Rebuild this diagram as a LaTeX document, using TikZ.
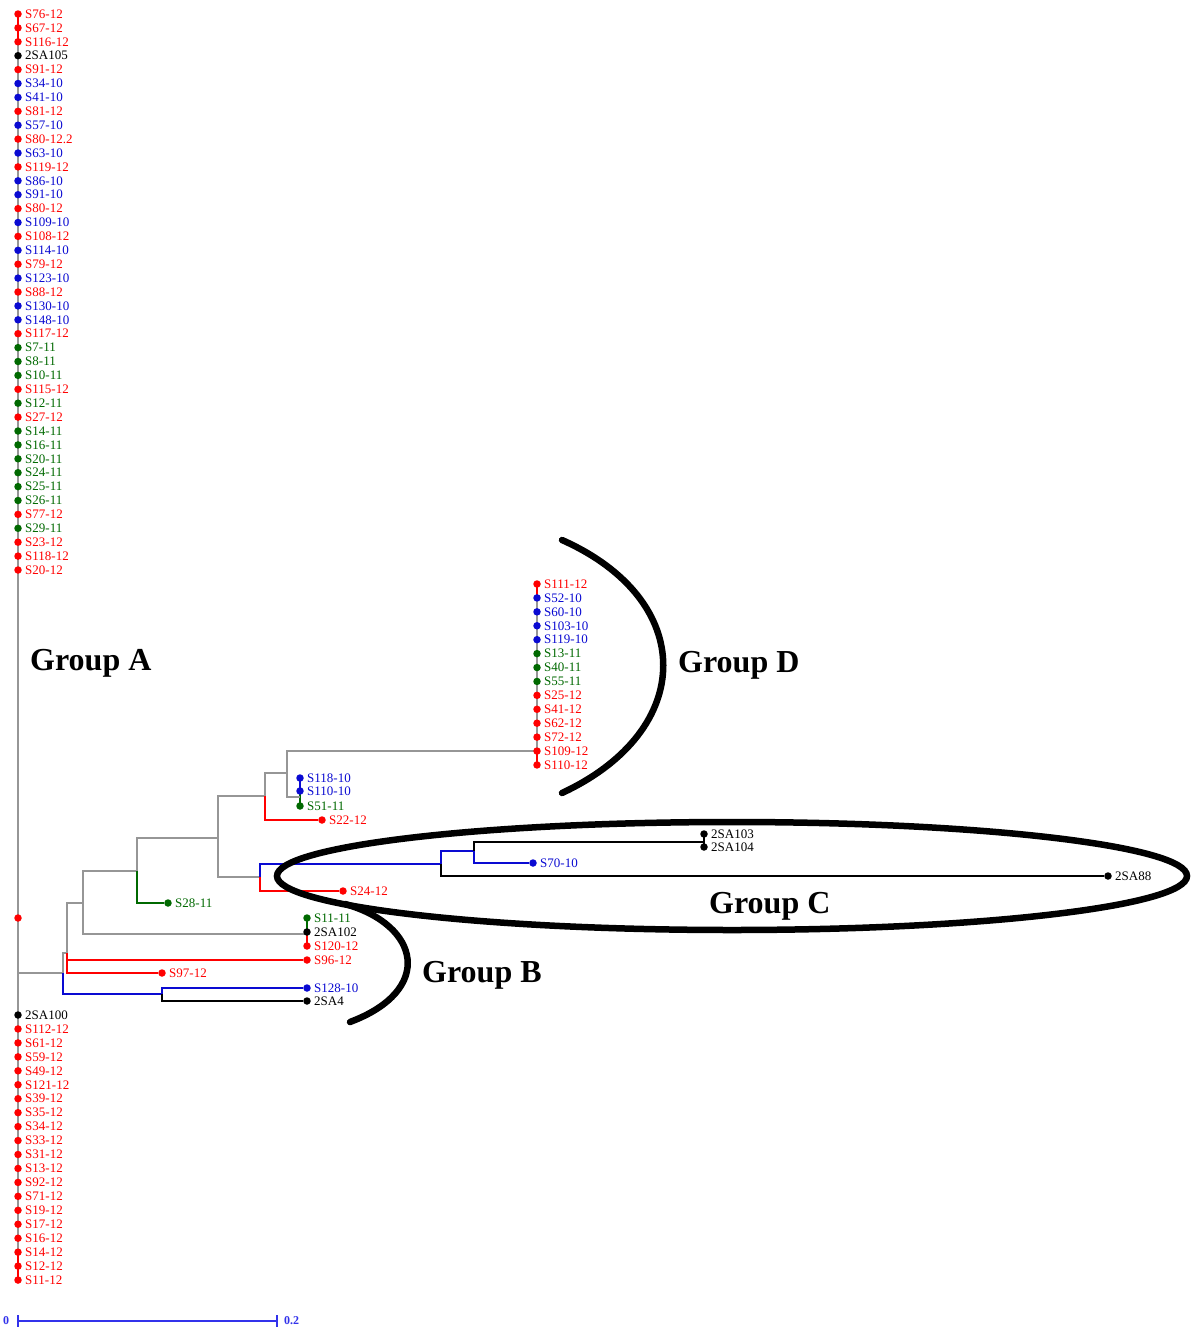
\documentclass[tikz,border=0pt]{standalone}
\usepackage{fontspec}
\setmainfont{Liberation Serif}

\pgfdeclarelayer{paper}
\pgfdeclarelayer{edges}
\pgfsetlayers{paper,edges,main}

\definecolor{tred}{RGB}{255,0,0}
\definecolor{tblue}{RGB}{10,10,210}
\definecolor{tgreen}{RGB}{0,105,0}
\definecolor{tblack}{RGB}{0,0,0}
\definecolor{tgray}{RGB}{150,150,150}
\definecolor{sbblue}{RGB}{50,50,235}

\tikzset{
  dot/.style={circle,inner sep=0pt,minimum size=7.5pt},
  lab/.style={anchor=west,inner sep=0pt,font=\fontsize{13}{13}\selectfont},
  edge/.style={line width=1.2pt},
  grp/.style={anchor=base west,inner sep=0pt,font=\fontsize{32}{32}\selectfont\bfseries},
  hoop/.style={line width=6.5pt,line cap=round,black},
  sbtext/.style={inner sep=0pt,text=sbblue,font=\fontsize{12}{12}\selectfont\bfseries},
}

% leaf: name, x, y, colour, label
\newcommand{\tleaf}[5]{%
  \node[dot,fill=#4] (#1) at (#2,{#3}) {};
  \node[lab,text=#4] (#1-t) at ([xshift=7pt]#1.center) {#5};}

\begin{document}
\begin{tikzpicture}[x=1pt,y=-1pt]
\begin{pgfonlayer}{paper}
  \fill[white] (0,0) rectangle (1192,1333);
\end{pgfonlayer}
\useasboundingbox (0,0) rectangle (1192,1333);

% ---- Group A: upper comb on the root spine
\foreach \c/\t [count=\i] in {
  tred/S76-12, tred/S67-12, tred/S116-12, tblack/2SA105, tred/S91-12,
  tblue/S34-10, tblue/S41-10, tred/S81-12, tblue/S57-10, tred/S80-12.2,
  tblue/S63-10, tred/S119-12, tblue/S86-10, tblue/S91-10, tred/S80-12,
  tblue/S109-10, tred/S108-12, tblue/S114-10, tred/S79-12, tblue/S123-10,
  tred/S88-12, tblue/S130-10, tblue/S148-10, tred/S117-12, tgreen/S7-11,
  tgreen/S8-11, tgreen/S10-11, tred/S115-12, tgreen/S12-11, tred/S27-12,
  tgreen/S14-11, tgreen/S16-11, tgreen/S20-11, tgreen/S24-11, tgreen/S25-11,
  tgreen/S26-11, tred/S77-12, tgreen/S29-11, tred/S23-12, tred/S118-12,
  tred/S20-12}
  {\tleaf{a\i}{18}{14+13.9*(\i-1)}{\c}{\t}}

% ---- Group A: lower comb on the root spine
\foreach \c/\t [count=\i] in {
  tblack/2SA100, tred/S112-12, tred/S61-12, tred/S59-12, tred/S49-12,
  tred/S121-12, tred/S39-12, tred/S35-12, tred/S34-12, tred/S33-12,
  tred/S31-12, tred/S13-12, tred/S92-12, tred/S71-12, tred/S19-12,
  tred/S17-12, tred/S16-12, tred/S14-12, tred/S12-12, tred/S11-12}
  {\tleaf{b\i}{18}{1015+13.95*(\i-1)}{\c}{\t}}

\node[dot,fill=tred] (mid) at (18,918) {};

% ---- Group D comb
\foreach \c/\t [count=\i] in {
  tred/S111-12, tblue/S52-10, tblue/S60-10, tblue/S103-10, tblue/S119-10,
  tgreen/S13-11, tgreen/S40-11, tgreen/S55-11, tred/S25-12, tred/S41-12,
  tred/S62-12, tred/S72-12, tred/S109-12, tred/S110-12}
  {\tleaf{d\i}{537}{584+13.92*(\i-1)}{\c}{\t}}

% ---- remaining leaves
\tleaf{s128}{307}{988}{tblue}{S128-10}
\tleaf{sa4}{307}{1001}{tblack}{2SA4}
\tleaf{s96}{307}{960}{tred}{S96-12}
\tleaf{s97}{162}{973}{tred}{S97-12}
\tleaf{s11}{307}{918}{tgreen}{S11-11}
\tleaf{sa102}{307}{932}{tblack}{2SA102}
\tleaf{s120}{307}{946}{tred}{S120-12}
\tleaf{s28}{168}{903}{tgreen}{S28-11}
\tleaf{s22}{322}{820}{tred}{S22-12}
\tleaf{s118}{300}{778}{tblue}{S118-10}
\tleaf{s110}{300}{791}{tblue}{S110-10}
\tleaf{s51}{300}{806}{tgreen}{S51-11}
\tleaf{s24}{343}{891}{tred}{S24-12}
\tleaf{sa88}{1108}{876}{tblack}{2SA88}
\tleaf{s70}{533}{863}{tblue}{S70-10}
\tleaf{sa103}{704}{834}{tblack}{2SA103}
\tleaf{sa104}{704}{847}{tblack}{2SA104}

% ---- inner nodes
\coordinate (R)   at (18,973);
\coordinate (N1)  at (63,973);
\coordinate (Nb)  at (162,994);
\coordinate (N2)  at (67,953);
\coordinate (N4)  at (83,903);
\coordinate (K1)  at (307,934);
\coordinate (N5)  at (137,871);
\coordinate (N6)  at (218,838);
\coordinate (N7)  at (265,796);
\coordinate (N8)  at (260,877);
\coordinate (N9)  at (287,773);
\coordinate (KD)  at (537,751);
\coordinate (K2)  at (300,797);
\coordinate (N10) at (441,864);
\coordinate (N11) at (474,851);
\coordinate (K3)  at (704,842);

\begin{pgfonlayer}{edges}
  % root spine
  \draw[edge,tgray] (a1.center) -- (b20.center);
  \draw[edge,tred] (a1.center) -- (a3.center);
  \draw[edge,tred] (b18.center) -- (b20.center);
  % Group D comb
  \draw[edge,tgray] (d2.center) -- (d13.center);
  \draw[edge,tred] (d1.center) -- (d2.center);
  \draw[edge,tred] (d13.center) -- (d14.center);
  % small clusters
  \draw[edge,tgreen] (s11.center) -- (sa102.center);
  \draw[edge,tred] (sa102.center) -- (s120.center);
  \draw[edge,tblue] (s118.center) -- (s110.center);
  \draw[edge,tgreen] (s110.center) -- (s51.center);
  \draw[edge,tblack] (sa103.center) -- (sa104.center);
  % branches
  \draw[edge,tgray] (R) -- (N1);
  \draw[edge,tgray] (N1) |- (N2);
  \draw[edge,tblue] (N1) |- (Nb);
  \draw[edge,tblue] (Nb) |- (s128);
  \draw[edge,tblack] (Nb) |- (sa4);
  \draw[edge,tgray] (N2) |- (N4);
  \draw[edge,tred] (N2) |- (s96);
  \draw[edge,tred] (N2) |- (s97);
  \draw[edge,tgray] (N4) |- (N5);
  \draw[edge,tgray] (N4) |- (K1);
  \draw[edge,tgray] (N5) |- (N6);
  \draw[edge,tgreen] (N5) |- (s28);
  \draw[edge,tgray] (N6) |- (N7);
  \draw[edge,tgray] (N6) |- (N8);
  \draw[edge,tgray] (N7) |- (N9);
  \draw[edge,tred] (N7) |- (s22);
  \draw[edge,tgray] (N9) |- (KD);
  \draw[edge,tgray] (N9) |- (K2);
  \draw[edge,tblue] (N8) |- (N10);
  \draw[edge,tred] (N8) |- (s24);
  \draw[edge,tblue] (N10) |- (N11);
  \draw[edge,tblack] (N10) |- (sa88);
  \draw[edge,tblack] (N11) |- (K3);
  \draw[edge,tblue] (N11) |- (s70);
\end{pgfonlayer}

% ---- group outlines
\draw[hoop] (562,540) .. controls (697,600) and (697,730) .. (562,793);
\draw[hoop] (732,876) ellipse [x radius=455pt, y radius=54pt];
\draw[hoop] (345,904) .. controls (420,925) and (435,990) .. (350,1022);

% ---- group names
\node[grp] (gA) at (30,670) {Group A};
\node[grp] (gD) at (678,672) {Group D};
\node[grp] (gC) at (709,913) {Group C};
\node[grp] (gB) at (422,982) {Group B};

% ---- scale bar
\coordinate (sbL) at (18,1321);
\coordinate (sbR) at (277,1321);
\draw[line width=1.2pt,sbblue] (sbL) -- (sbR);
\draw[line width=1.2pt,sbblue] ([yshift=6pt]sbL) -- ([yshift=-6pt]sbL);
\draw[line width=1.2pt,sbblue] ([yshift=6pt]sbR) -- ([yshift=-6pt]sbR);
\node[sbtext] (sb0) at (6,1321) {0};
\node[sbtext,anchor=west] (sb2) at (284,1321) {0.2};
\end{tikzpicture}
\end{document}
